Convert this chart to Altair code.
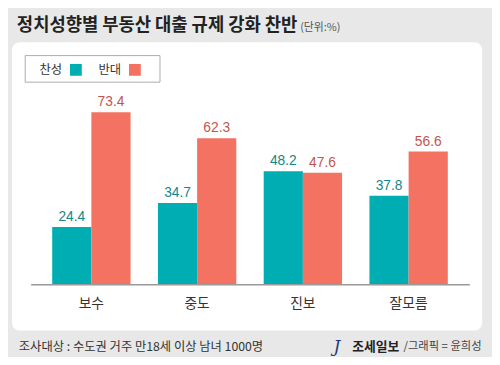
import altair as alt
import pandas as pd

categories = ["보수", "중도", "진보", "잘모름"]
series_names = ["찬성", "반대"]
approve = [24.4, 34.7, 48.2, 37.8]
oppose = [73.4, 62.3, 47.6, 56.6]
colors = ["#00adb2", "#f47262"]
label_colors = ["#14878b", "#c4534a"]

title_text = "정치성향별 부동산 대출 규제 강화 찬반"
unit_text = "(단위:%)"
source_text = "조사대상 : 수도권 거주 만18세 이상 남녀 1000명"
brand_text = "조세일보"
credit_text = "/그래픽 = 윤희성"

rows = []
for i, c in enumerate(categories):
    rows.append({"cat": c, "series": series_names[0], "value": approve[i]})
    rows.append({"cat": c, "series": series_names[1], "value": oppose[i]})
df = pd.DataFrame(rows)

FONT = "Noto Sans CJK KR"

x_enc = alt.X("cat:N", sort=categories,
              scale=alt.Scale(paddingInner=0.259, paddingOuter=0.204),
              axis=alt.Axis(title=None, domainColor="#9a9a9a", domainWidth=1.5,
                            ticks=False, tickSize=0, labelPadding=13,
                            labelFontSize=14, labelColor="#333333", labelFont=FONT,
                            labelAngle=0, grid=False, zindex=1))
xo_enc = alt.XOffset("series:N", sort=series_names,
                     scale=alt.Scale(domain=series_names, paddingInner=0, paddingOuter=0))
y_enc = alt.Y("value:Q", scale=alt.Scale(domain=[0, 78], nice=False), axis=None)


def one(text):
    return alt.Chart(pd.DataFrame({"t": [text]}))


panel = one("p").mark_rect(fill="white", cornerRadius=8).encode(
    x=alt.value(-19), x2=alt.value(459), y=alt.value(-60), y2=alt.value(233))
legend_box = one("b").mark_rect(fill="white", stroke="#aaaaaa", strokeWidth=1).encode(
    x=alt.value(-5.5), x2=alt.value(131.5), y=alt.value(-46.5), y2=alt.value(-19.5))

# manual legend (label first, then swatch), positions are layout only
legend_layers = []
legend_label_x = [9, 69]
for name, col, lx in zip(series_names, colors, legend_label_x):
    legend_layers.append(one(name).mark_text(align="left", baseline="middle", fontSize=12.5,
                                             font=FONT, color="#333333").encode(
        text="t:N", x=alt.value(lx), y=alt.value(-32)))
    legend_layers.append(one(name).mark_rect(fill=col).encode(
        x=alt.value(lx + 31), x2=alt.value(lx + 43), y=alt.value(-38), y2=alt.value(-26)))

bars = alt.Chart(df).mark_bar().encode(
    x=x_enc, xOffset=xo_enc, y=y_enc,
    color=alt.Color("series:N", sort=series_names,
                    scale=alt.Scale(domain=series_names, range=colors),
                    legend=None),
)

texts = []
for s, lc in zip(series_names, label_colors):
    texts.append(alt.Chart(df).transform_filter(alt.datum.series == s).mark_text(
        baseline="bottom", dy=-3, fontSize=14, font="Liberation Sans", color=lc).encode(
        x=x_enc, xOffset=xo_enc, y=y_enc, text=alt.Text("value:Q", format=".1f")))

title = one(title_text).mark_text(align="left", baseline="middle", fontSize=18,
                                  fontWeight="bold", font=FONT, color="#222222").encode(
    text="t:N", x=alt.value(-14), y=alt.value(-77))
unit = one(unit_text).mark_text(align="left", baseline="middle", fontSize=11,
                                font=FONT, color="#555555").encode(
    text="t:N", x=alt.value(274), y=alt.value(-74))
source = one(source_text).mark_text(align="left", baseline="middle", fontSize=12.5,
                                    font=FONT, color="#333333").encode(
    text="t:N", x=alt.value(-12), y=alt.value(250))
logo = one("J").mark_text(align="left", baseline="middle", fontSize=17, fontStyle="italic",
                          font="DejaVu Serif", color="#1d3b78").encode(
    text="t:N", x=alt.value(308), y=alt.value(250))
brand = one(brand_text).mark_text(align="left", baseline="middle", fontSize=13,
                                  fontWeight="bold", font=FONT, color="#222222").encode(
    text="t:N", x=alt.value(327), y=alt.value(250))
credit = one(credit_text).mark_text(align="left", baseline="middle", fontSize=11.5,
                                    font=FONT, color="#444444").encode(
    text="t:N", x=alt.value(379), y=alt.value(250))

chart = alt.layer(panel, legend_box, *legend_layers, bars, *texts, title, unit, source,
                  logo, brand, credit).properties(
    width=446, height=186,
    autosize=alt.AutoSizeParams(type="none"),
    padding={"left": 23, "top": 92, "right": 23, "bottom": 71},
    background="#e8e8e8",
).configure_view(stroke=None)

chart.save("out.html", embed_options={"renderer": "svg", "actions": False})
